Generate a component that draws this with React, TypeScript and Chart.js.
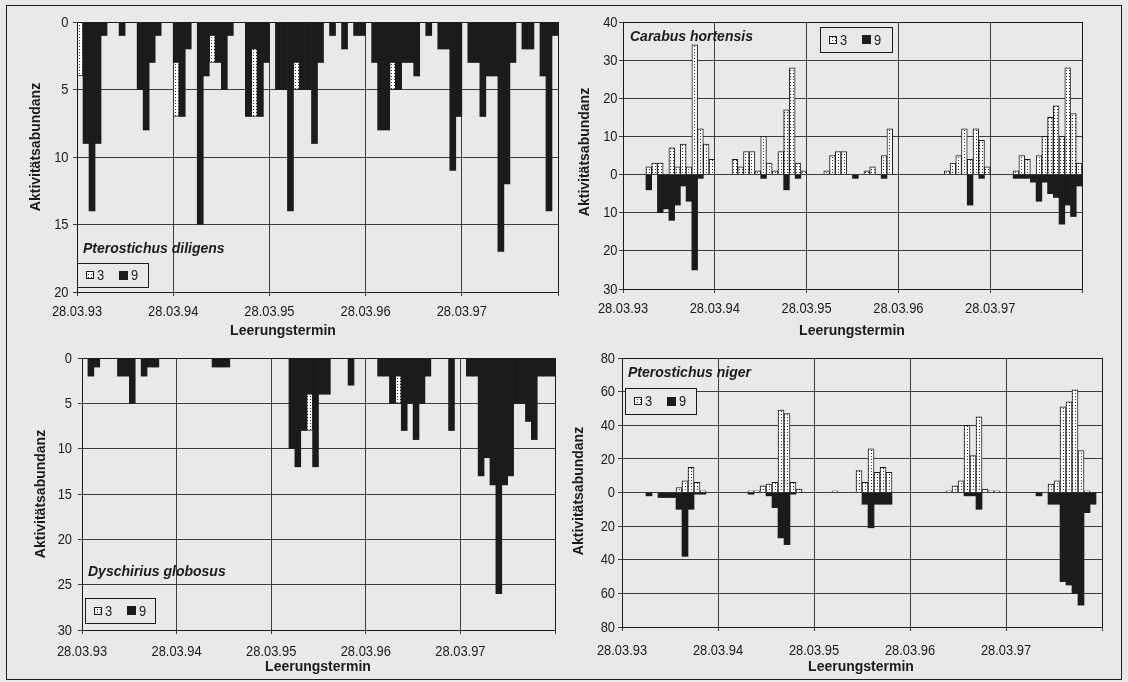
import React, { useEffect, useRef } from "react";
import { Chart, registerables } from "chart.js";

Chart.register(...registerables);

// ---------- data ----------
const dateLabels = ["28.03.93", "28.03.94", "28.03.95", "28.03.96", "28.03.97"];
const slotsPerYear = 16; // Leerungstermine per year (slot grid)
const yearCount = 5;
const seriesLabels = ["3", "9"];
const yAxisTitle = "Aktivitätsabundanz";
const xAxisTitle = "Leerungstermin";

// Pterostichus diligens
const diligens3 = [
  4, 0, 0, 0, 0, 0, 0, 0, 0, 0, 0, 0, 0, 0, 0, 0,
  7, 0, 0, 0, 0, 0, 3, 0, 0, 0, 0, 0, 0, 7, 0, 0,
  0, 0, 0, 0, 5, 0, 0, 0, 0, 0, 0, 0, 0, 0, 0, 0,
  0, 0, 0, 0, 5, 0, 0, 0, 0, 0, 0, 0, 0, 0, 0, 0,
  0, 0, 0, 0, 0, 0, 0, 0, 0, 0, 0, 0, 0, 0, 0, 0,
];
const diligens9 = [
  0, 9, 14, 9, 1, 0, 0, 1, 0, 0, 5, 8, 3, 1, 0, 0,
  3, 7, 2, 0, 15, 4, 1, 3, 5, 1, 0, 0, 7, 2, 7, 3,
  0, 5, 5, 14, 3, 5, 5, 9, 3, 0, 1, 0, 2, 0, 1, 1,
  0, 3, 8, 8, 3, 5, 3, 3, 4, 0, 1, 0, 2, 2, 11, 7,
  0, 3, 3, 7, 4, 4, 17, 12, 3, 0, 2, 2, 0, 4, 14, 1,
];

// Carabus hortensis
const carabus3 = [
  0, 0, 0, 0, 2, 3, 3, 0, 7, 2, 8, 2, 34, 12, 8, 4,
  0, 0, 0, 4, 2, 6, 6, 1, 10, 3, 1, 6, 17, 28, 3, 1,
  0, 0, 0, 1, 5, 6, 6, 0, 0, 0, 1, 2, 0, 5, 12, 0,
  0, 0, 0, 0, 0, 0, 0, 0, 1, 3, 5, 12, 4, 12, 9, 2,
  0, 0, 0, 0, 1, 5, 4, 0, 5, 10, 15, 18, 10, 28, 16, 3,
];
const carabus9 = [
  0, 0, 0, 0, 4, 0, 10, 9, 12, 8, 3, 7, 25, 1, 0, 0,
  0, 0, 0, 0, 0, 0, 0, 0, 1, 0, 0, 0, 4, 0, 1, 0,
  0, 0, 0, 0, 0, 0, 0, 0, 1, 0, 0, 0, 0, 1, 0, 0,
  0, 0, 0, 0, 0, 0, 0, 0, 0, 0, 0, 0, 8, 0, 1, 0,
  0, 0, 0, 0, 1, 1, 1, 2, 7, 2, 5, 6, 13, 8, 11, 3,
];

// Dyschirius globosus
const dyschirius3 = [
  0, 0, 0, 0, 0, 0, 0, 0, 0, 0, 0, 0, 0, 0, 0, 0,
  0, 0, 0, 0, 0, 0, 0, 0, 0, 0, 0, 0, 0, 0, 0, 0,
  0, 0, 0, 0, 0, 0, 8, 0, 0, 0, 0, 0, 0, 0, 0, 0,
  0, 0, 0, 0, 0, 5, 0, 0, 0, 0, 0, 0, 0, 0, 0, 0,
  0, 0, 0, 0, 0, 0, 0, 0, 0, 0, 0, 0, 0, 0, 0, 0,
];
const dyschirius9 = [
  0, 2, 1, 0, 0, 0, 2, 2, 5, 0, 2, 1, 1, 0, 0, 0,
  0, 0, 0, 0, 0, 0, 1, 1, 1, 0, 0, 0, 0, 0, 0, 0,
  0, 0, 0, 10, 12, 8, 4, 12, 4, 4, 0, 0, 0, 3, 0, 0,
  0, 0, 2, 2, 5, 2, 8, 5, 9, 5, 2, 0, 0, 0, 8, 0,
  0, 2, 2, 13, 11, 14, 26, 14, 13, 5, 5, 7, 9, 2, 2, 2,
];

// Pterostichus niger
const niger3 = [
  0, 0, 0, 0, 0, 0, 0, 0, 0, 3, 7, 15, 6, 1, 0, 0,
  0, 0, 0, 0, 0, 1, 1, 4, 5, 6, 49, 47, 6, 2, 0, 0,
  0, 0, 0, 1, 0, 0, 0, 13, 6, 26, 12, 15, 12, 0, 0, 0,
  0, 0, 0, 0, 0, 0, 1, 4, 7, 40, 22, 45, 2, 1, 1, 0,
  0, 0, 0, 0, 0, 0, 0, 5, 7, 51, 54, 61, 25, 1, 0, 0,
];
const niger9 = [
  0, 0, 0, 0, 2, 0, 3, 3, 3, 10, 38, 10, 1, 1, 0, 0,
  0, 0, 0, 0, 0, 1, 0, 0, 2, 9, 27, 31, 1, 0, 0, 0,
  0, 0, 0, 0, 0, 0, 0, 0, 7, 21, 7, 7, 7, 0, 0, 0,
  0, 0, 0, 0, 0, 0, 0, 0, 0, 2, 2, 10, 0, 0, 0, 0,
  0, 0, 0, 0, 0, 2, 0, 7, 7, 53, 55, 60, 67, 12, 7, 0,
];

// ---------- styles / layout ----------
const INK = "#1b1b1b";
const GRID = "#3d3d3d";
const PAPER = "#e9e9e9";
const FONT = "'Liberation Sans', Arial, sans-serif";
const TICK_FONT = `15px ${FONT}`;
const TICK_SQUEEZE = 0.86; // the scanned lettering is horizontally compressed
const W = 564;
const H = 341;
const Y_AXIS_W = 40;
const X_AXIS_H = 30;

type Box = [number, number, number, number];
interface PanelSpec {
  species: string;
  s3: number[];
  s9: number[];
  split: boolean;
  yMin: number;
  yMax: number;
  yStep: number;
  origin: [number, number];
  plot: Box; // left, top, right, bottom (page px)
  yTickGap: number;
  xTickDrop: number;
  xTitleAt: [number, number];
  yTitleAt: [number, number];
  speciesAt: [number, number];
  legend: Box;
}

const panels: PanelSpec[] = [
  {
    species: "Pterostichus diligens", s3: diligens3, s9: diligens9, split: false,
    yMin: 0, yMax: 20, yStep: 5, origin: [0, 0], plot: [77, 22, 558, 292],
    yTickGap: 8.5, xTickDrop: 19.5, xTitleAt: [283, 331], yTitleAt: [36, 147],
    speciesAt: [83, 249], legend: [77, 263, 148, 287],
  },
  {
    species: "Carabus hortensis", s3: carabus3, s9: carabus9, split: true,
    yMin: -30, yMax: 40, yStep: 10, origin: [564, 0], plot: [623, 22, 1082, 289],
    yTickGap: 5.5, xTickDrop: 20, xTitleAt: [852, 331], yTitleAt: [585, 152],
    speciesAt: [630, 37], legend: [820, 27, 892, 52],
  },
  {
    species: "Dyschirius globosus", s3: dyschirius3, s9: dyschirius9, split: false,
    yMin: 0, yMax: 30, yStep: 5, origin: [0, 341], plot: [82, 358, 555, 630],
    yTickGap: 10, xTickDrop: 21.5, xTitleAt: [318, 667], yTitleAt: [41, 494],
    speciesAt: [88, 572], legend: [85, 598, 155, 623],
  },
  {
    species: "Pterostichus niger", s3: niger3, s9: niger9, split: true,
    yMin: -80, yMax: 80, yStep: 20, origin: [564, 341], plot: [622, 358, 1102, 627],
    yTickGap: 7, xTickDrop: 23.5, xTitleAt: [861, 667], yTitleAt: [579, 491],
    speciesAt: [628, 373], legend: [625, 388, 696, 414],
  },
];

function makePattern(): CanvasPattern | string {
  const c = document.createElement("canvas");
  c.width = 3;
  c.height = 3;
  const g = c.getContext("2d");
  if (!g) return "#ffffff";
  g.fillStyle = "#ffffff";
  g.fillRect(0, 0, 3, 3);
  g.fillStyle = "#333333";
  g.fillRect(1, 1, 1, 1);
  return g.createPattern(c, "repeat") || "#ffffff";
}

function squeezedText(
  ctx: CanvasRenderingContext2D,
  text: string,
  x: number,
  y: number,
  align: CanvasTextAlign
) {
  ctx.save();
  ctx.translate(x, y);
  ctx.scale(TICK_SQUEEZE, 1);
  ctx.textAlign = align;
  ctx.textBaseline = "middle";
  ctx.fillText(text, 0, 0);
  ctx.restore();
}

function PanelChart({ spec }: { spec: PanelSpec }) {
  const ref = useRef<HTMLCanvasElement>(null);

  useEffect(() => {
    const canvas = ref.current;
    if (!canvas) return;
    const pattern = makePattern();
    const sign9 = spec.split ? -1 : 1;
    const toPoints = (vals: number[], s: number) =>
      vals.map((v, i) => ({ x: i + 0.5, y: v * s })).filter((p) => p.y !== 0);
    const [ox, oy] = spec.origin;
    const [pl, pt, pr, pb] = spec.plot;
    const padding = {
      left: pl - ox - Y_AXIS_W,
      top: pt - oy,
      right: ox + W - pr,
      bottom: oy + H - pb - X_AXIS_H,
    };
    const total = slotsPerYear * yearCount;
    const xTicks: number[] = [];
    for (let k = 0; k <= yearCount; k++) xTicks.push(k * slotsPerYear);
    const yTicks: number[] = [];
    for (let v = spec.yMin; v <= spec.yMax; v += spec.yStep) yTicks.push(v);

    const decor = {
      id: "decor",
      afterDraw(chart: any) {
        const ctx: CanvasRenderingContext2D = chart.ctx;
        const ca = chart.chartArea;
        const xs = chart.scales.x;
        const ys = chart.scales.y;
        ctx.save();
        // plot frame
        ctx.strokeStyle = INK;
        ctx.lineWidth = 1;
        const fl = Math.round(ca.left) + 0.5;
        const ft = Math.round(ca.top) + 0.5;
        ctx.strokeRect(fl, ft, Math.round(ca.right) - Math.round(ca.left), Math.round(ca.bottom) - Math.round(ca.top));

        ctx.fillStyle = INK;
        // tick labels
        ctx.font = TICK_FONT;
        dateLabels.forEach((lab, k) => {
          squeezedText(ctx, lab, xs.getPixelForValue(k * slotsPerYear), ca.bottom + spec.xTickDrop, "center");
        });
        yTicks.forEach((v) => {
          squeezedText(ctx, String(Math.abs(v)), ca.left - spec.yTickGap, ys.getPixelForValue(v) + 0.5, "right");
        });

        // x title
        ctx.font = `bold 14px ${FONT}`;
        ctx.textAlign = "center";
        ctx.textBaseline = "middle";
        ctx.fillText(xAxisTitle, spec.xTitleAt[0] - ox, spec.xTitleAt[1] - oy);
        // y title
        ctx.save();
        ctx.translate(spec.yTitleAt[0] - ox, spec.yTitleAt[1] - oy);
        ctx.rotate(-Math.PI / 2);
        ctx.fillText(yAxisTitle, 0, 0);
        ctx.restore();
        // species
        ctx.font = `italic bold 14px ${FONT}`;
        ctx.textAlign = "left";
        ctx.fillText(spec.species, spec.speciesAt[0] - ox, spec.speciesAt[1] - oy);
        // legend
        const [ll, lt, lr, lb] = spec.legend;
        const bx = ll - ox;
        const by = lt - oy;
        const bw = lr - ll;
        const bh = lb - lt;
        ctx.fillStyle = PAPER;
        ctx.fillRect(bx, by, bw, bh);
        ctx.strokeStyle = INK;
        ctx.strokeRect(bx + 0.5, by + 0.5, bw, bh);
        const cy = by + bh / 2;
        ctx.fillStyle = pattern as any;
        ctx.fillRect(bx + 9, Math.round(cy - 4), 8, 8);
        ctx.strokeRect(bx + 9.5, Math.round(cy - 4) + 0.5, 7, 7);
        ctx.fillStyle = INK;
        ctx.fillRect(bx + 42, Math.round(cy - 4.5), 9, 9);
        ctx.font = TICK_FONT;
        squeezedText(ctx, seriesLabels[0], bx + 20, cy + 1, "left");
        squeezedText(ctx, seriesLabels[1], bx + 54, cy + 1, "left");
        ctx.restore();
      },
    };

    const chart = new Chart(canvas, {
      type: "bar",
      data: {
        datasets: [
          {
            label: seriesLabels[1],
            data: toPoints(spec.s9, sign9),
            backgroundColor: INK,
            borderColor: INK,
            borderWidth: 0,
            grouped: false,
            barPercentage: 1,
            categoryPercentage: 1,
            order: 0,
          } as any,
          {
            label: seriesLabels[0],
            data: toPoints(spec.s3, 1),
            backgroundColor: pattern,
            borderColor: INK,
            borderWidth: 1,
            grouped: false,
            barPercentage: 1,
            categoryPercentage: 1,
            order: 1,
          } as any,
        ],
      },
      options: {
        animation: false,
        responsive: false,
        events: [],
        layout: { padding },
        plugins: {
          legend: { display: false },
          tooltip: { enabled: false },
          title: { display: false },
        },
        scales: {
          x: {
            type: "linear",
            min: 0,
            max: total,
            offset: false,
            afterBuildTicks: (s: any) => {
              s.ticks = xTicks.map((v) => ({ value: v }));
            },
            afterFit: (s: any) => {
              s.height = X_AXIS_H;
            },
            ticks: { display: false, autoSkip: false, maxRotation: 0 },
            grid: { color: GRID, lineWidth: 1, tickLength: 4, offset: false },
            border: { display: true, color: INK },
          },
          y: {
            type: "linear",
            min: spec.yMin,
            max: spec.yMax,
            reverse: !spec.split,
            afterBuildTicks: (s: any) => {
              s.ticks = yTicks.map((v) => ({ value: v }));
            },
            afterFit: (s: any) => {
              s.width = Y_AXIS_W;
            },
            ticks: { display: false },
            grid: { color: GRID, lineWidth: 1, tickLength: 4 },
            border: { display: true, color: INK },
          },
        },
      } as any,
      plugins: [decor],
    });
    return () => chart.destroy();
  }, [spec]);

  return (
    <canvas
      ref={ref}
      width={W}
      height={H}
      style={{ position: "absolute", left: spec.origin[0], top: spec.origin[1], width: W, height: H }}
    />
  );
}

export default function App() {
  return (
    <div
      style={{
        position: "fixed",
        left: 0,
        top: 0,
        width: 1128,
        height: 682,
        background: PAPER,
        overflow: "hidden",
      }}
    >
      {panels.map((p) => (
        <PanelChart key={p.species} spec={p} />
      ))}
      <div
        style={{
          position: "absolute",
          left: 6,
          top: 5,
          width: 1116,
          height: 675,
          border: `1px solid ${INK}`,
          boxSizing: "border-box",
          pointerEvents: "none",
        }}
      />
    </div>
  );
}
